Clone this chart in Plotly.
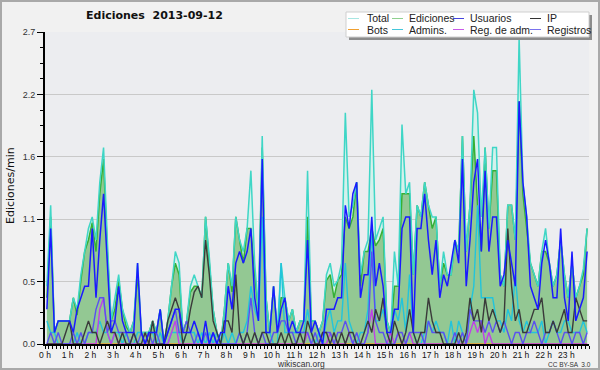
import plotly.graph_objects as go

# ---------------- data (edits per minute, 10-minute bins) ----------------
hours = [f"{h} h" for h in range(24)]

total = [0.5, 1.2, 0.1, 0.2, 0.2, 0.2,  0.2, 0.4, 0.3, 0.6, 0.8, 1.0,
         1.1, 0.9, 1.4, 1.7, 0.9, 0.2,  0.4, 0.6, 0.3, 0.2, 0.1, 0.2,
         0.7, 0.1, 0.1, 0.1, 0.2, 0.1,  0.3, 0.0, 0.2, 0.5, 0.8, 0.7,
         0.1, 0.2, 0.5, 0.6, 0.5, 0.4,  1.1, 0.75, 0.3, 0.1, 0.0, 0.3,
         0.7, 0.5, 1.1, 0.9, 0.8, 1.0,  1.5, 0.7, 0.3, 1.8, 0.4, 0.1,
         0.5, 0.1, 0.7, 0.4, 0.2, 0.3,  0.1, 0.2, 0.2, 1.5, 0.2, 0.2,
         0.1, 0.2, 0.6, 0.7, 0.5, 0.55, 0.7, 2.0, 1.1, 1.2, 1.4, 0.6,
         0.8, 0.9, 2.2, 0.9, 1.0, 1.1,  0.2, 0.1, 0.8, 0.5, 1.9, 1.3,
         1.4, 0.6, 1.2, 1.1, 1.4, 1.2,  1.1, 1.1, 0.5, 0.8, 0.6, 0.6,
         0.9, 0.8, 1.8, 0.8, 1.2, 2.2,  2.0, 1.1, 1.7, 1.0, 1.7, 1.7,
         0.6, 0.5, 1.2, 1.2, 0.9, 2.65, 1.4, 1.1, 0.7, 0.6, 0.5, 0.8,
         1.0, 0.7, 0.5, 0.6, 0.9, 0.6,  0.4, 0.7, 0.4, 0.5, 0.65, 1.0]

ediciones = [0.4, 1.1, 0.1, 0.2, 0.2, 0.2,  0.2, 0.4, 0.25, 0.55, 0.8, 0.9,
             1.05, 0.8, 1.3, 1.6, 0.8, 0.2, 0.3, 0.55, 0.3, 0.15, 0.1, 0.2,
             0.6, 0.1, 0.1, 0.1, 0.2, 0.1,  0.3, 0.0, 0.2, 0.5, 0.7, 0.6,
             0.1, 0.2, 0.45, 0.5, 0.5, 0.4, 1.1, 0.7, 0.3, 0.1, 0.0, 0.3,
             0.7, 0.45, 1.1, 0.9, 0.7, 1.0, 1.0, 0.6, 0.3, 1.7, 0.4, 0.1,
             0.5, 0.1, 0.4, 0.4, 0.2, 0.3,  0.1, 0.2, 0.2, 1.1, 0.2, 0.2,
             0.1, 0.2, 0.55, 0.6, 0.4, 0.55, 0.6, 1.1, 1.0, 1.1, 1.4, 0.5,
             0.8, 0.8, 1.0, 0.85, 0.9, 1.0, 0.2, 0.1, 0.5, 0.5, 1.3, 1.3,
             1.3, 0.6, 1.2, 1.1, 1.4, 1.2,  1.0, 1.1, 0.5, 0.7, 0.6, 0.6,
             0.9, 0.8, 1.8, 0.8, 1.2, 1.8,  1.2, 0.8, 1.7, 1.0, 1.5, 1.5,
             0.6, 0.5, 1.2, 1.2, 0.9, 2.1,  1.3, 1.0, 0.7, 0.6, 0.5, 0.8,
             0.8, 0.7, 0.5, 0.6, 0.9, 0.6,  0.4, 0.7, 0.4, 0.5, 0.6, 1.0]

usuarios = [0.3, 1.0, 0.1, 0.2, 0.2, 0.2,  0.2, 0.1, 0.3, 0.4, 0.5, 0.5,
            1.0, 0.4, 0.9, 1.3, 0.7, 0.1,  0.2, 0.5, 0.2, 0.1, 0.1, 0.1,
            0.7, 0.1, 0.0, 0.1, 0.1, 0.1,  0.3, 0.0, 0.1, 0.2, 0.3, 0.3,
            0.1, 0.1, 0.1, 0.2, 0.1, 0.0,  0.2, 0.0, 0.1, 0.0, 0.1, 0.1,
            0.5, 0.3, 0.7, 0.8, 0.7, 0.8,  1.0, 0.4, 0.2, 1.6, 0.1, 0.1,
            0.5, 0.1, 0.3, 0.4, 0.1, 0.2,  0.1, 0.1, 0.2, 0.9, 0.1, 0.2,
            0.1, 0.0, 0.3, 0.3, 0.3, 0.4,  0.4, 1.2, 1.0, 1.3, 1.4, 0.4,
            0.6, 0.6, 1.1, 0.5, 0.7, 0.5,  0.1, 0.1, 0.3, 0.3, 1.0, 1.1,
            1.1, 0.1, 1.0, 1.0, 1.3, 0.9,  0.6, 0.9, 0.4, 0.6, 0.5, 0.7,
            0.9, 0.7, 1.6, 0.5, 0.9, 1.4,  1.6, 0.8, 1.5, 0.8, 1.1, 1.1,
            0.5, 0.6, 0.9, 0.7, 0.5, 2.1,  1.4, 1.1, 0.5, 0.4, 0.3, 0.7,
            0.9, 0.7, 0.4, 0.4, 1.0, 0.4,  0.2, 0.8, 0.2, 0.3, 0.4, 0.8]

ip = [0.0, 0.0, 0.0, 0.0, 0.0, 0.1,  0.2, 0.0, 0.0, 0.0, 0.1, 0.2,
      0.1, 0.1, 0.0, 0.1, 0.2, 0.1,  0.1, 0.0, 0.1, 0.0, 0.0, 0.1,
      0.0, 0.0, 0.1, 0.0, 0.2, 0.0,  0.0, 0.0, 0.2, 0.3, 0.4, 0.3,
      0.0, 0.1, 0.3, 0.45, 0.5, 0.4, 0.9, 0.6, 0.2, 0.1, 0.0, 0.2,
      0.2, 0.1, 0.6, 0.1, 0.0, 0.1,  0.0, 0.1, 0.0, 0.1, 0.1, 0.0,
      0.0, 0.0, 0.1, 0.0, 0.1, 0.0,  0.0, 0.1, 0.0, 0.2, 0.1, 0.0,
      0.0, 0.1, 0.1, 0.0, 0.1, 0.0,  0.1, 0.0, 0.1, 0.1, 0.0, 0.0,
      0.1, 0.2, 0.1, 0.3, 0.2, 0.4,  0.1, 0.0, 0.2, 0.1, 0.0, 0.1,
      0.3, 0.1, 0.0, 0.1, 0.1, 0.4,  0.2, 0.1, 0.1, 0.0, 0.0, 0.0,
      0.0, 0.1, 0.0, 0.1, 0.4, 0.2,  0.3, 0.1, 0.4, 0.2, 0.3, 0.2,
      0.1, 0.2, 1.0, 0.5, 0.2, 0.3,  0.1, 0.1, 0.2, 0.3, 0.3, 0.4,
      0.1, 0.1, 0.2, 0.1, 0.2, 0.3,  0.1, 0.1, 0.4, 0.3, 0.2, 0.2]

bots = [0.0] * 144

admins = [0.2, 0.1, 0.1, 0.0, 0.0, 0.0,  0.0, 0.0, 0.1, 0.0, 0.0, 0.1,
          0.1, 0.1, 0.2, 0.1, 0.1, 0.0,  0.1, 0.1, 0.0, 0.1, 0.0, 0.0,
          0.1, 0.1, 0.0, 0.1, 0.1, 0.0,  0.1, 0.0, 0.0, 0.1, 0.1, 0.1,
          0.0, 0.1, 0.1, 0.1, 0.0, 0.1,  0.0, 0.1, 0.0, 0.1, 0.0, 0.1,
          0.0, 0.1, 0.0, 0.1, 0.1, 0.2,  0.5, 0.3, 0.2, 1.1, 0.1, 0.1,
          0.0, 0.0, 0.7, 0.1, 0.1, 0.1,  0.1, 0.1, 0.1, 0.3, 0.1, 0.0,
          0.1, 0.0, 0.2, 0.3, 0.1, 0.2,  0.2, 0.7, 0.2, 0.1, 0.0, 0.1,
          0.1, 0.3, 1.0, 0.2, 0.2, 0.3,  0.1, 0.0, 0.3, 0.2, 0.4, 0.1,
          0.6, 0.1, 0.0, 0.0, 0.1, 0.2,  0.1, 0.2, 0.1, 0.1, 0.0, 0.2,
          0.0, 0.2, 0.1, 0.0, 0.3, 0.5,  1.2, 0.4, 0.4, 0.4, 0.4, 0.2,
          0.2, 0.1, 0.3, 0.2, 0.6, 0.2,  0.1, 0.2, 0.1, 0.1, 0.1, 0.2,
          0.0, 0.1, 0.2, 0.1, 0.1, 0.2,  0.2, 0.1, 0.1, 0.1, 0.2, 0.1]

reg_adm = [0.0, 0.0, 0.0, 0.0, 0.0, 0.0,  0.0, 0.0, 0.0, 0.0, 0.0, 0.0,
           0.0, 0.0, 0.3, 0.4, 0.1, 0.0,  0.1, 0.0, 0.0, 0.0, 0.0, 0.0,
           0.0, 0.0, 0.0, 0.0, 0.0, 0.0,  0.0, 0.0, 0.0, 0.1, 0.2, 0.0,
           0.0, 0.0, 0.0, 0.0, 0.0, 0.0,  0.0, 0.0, 0.0, 0.0, 0.0, 0.0,
           0.0, 0.0, 0.0, 0.0, 0.0, 0.0,  0.0, 0.0, 0.0, 0.0, 0.0, 0.0,
           0.0, 0.0, 0.0, 0.0, 0.0, 0.0,  0.0, 0.0, 0.0, 0.1, 0.0, 0.0,
           0.0, 0.0, 0.0, 0.1, 0.0, 0.0,  0.0, 0.0, 0.1, 0.0, 0.0, 0.0,
           0.0, 0.1, 0.3, 0.0, 0.0, 0.0,  0.0, 0.1, 0.0, 0.1, 0.0, 0.0,
           0.1, 0.0, 0.0, 0.0, 0.0, 0.0,  0.0, 0.0, 0.0, 0.0, 0.0, 0.0,
           0.0, 0.0, 0.0, 0.0, 0.1, 0.2,  0.1, 0.2, 0.0, 0.1, 0.0, 0.0,
           0.0, 0.0, 0.0, 0.0, 0.0, 0.0,  0.0, 0.0, 0.0, 0.0, 0.0, 0.0,
           0.0, 0.0, 0.0, 0.0, 0.0, 0.0,  0.0, 0.0, 0.0, 0.0, 0.0, 0.0]

registros = [0.0, 0.1, 0.0, 0.1, 0.0, 0.0,  0.0, 0.1, 0.0, 0.1, 0.0, 0.1,
             0.1, 0.3, 0.4, 0.4, 0.1, 0.2,  0.2, 0.1, 0.1, 0.1, 0.0, 0.1,
             0.0, 0.1, 0.0, 0.1, 0.0, 0.1,  0.0, 0.0, 0.1, 0.2, 0.3, 0.1,
             0.1, 0.2, 0.1, 0.0, 0.1, 0.0,  0.1, 0.0, 0.1, 0.0, 0.0, 0.0,
             0.0, 0.0, 0.0, 0.1, 0.0, 0.1,  0.4, 0.1, 0.0, 0.1, 0.0, 0.0,
             0.1, 0.1, 0.2, 0.2, 0.1, 0.1,  0.0, 0.1, 0.1, 0.1, 0.0, 0.1,
             0.0, 0.1, 0.1, 0.1, 0.0, 0.1,  0.1, 0.2, 0.1, 0.0, 0.1, 0.0,
             0.0, 0.1, 0.8, 0.2, 0.1, 0.1,  0.0, 0.0, 0.0, 0.1, 0.1, 0.0,
             0.1, 0.1, 0.1, 0.1, 0.0, 0.2,  0.1, 0.1, 0.1, 0.1, 0.0, 0.0,
             0.1, 0.0, 0.1, 0.0, 0.3, 0.2,  0.2, 0.2, 0.1, 0.2, 0.1, 0.2,
             0.1, 0.2, 0.1, 0.0, 0.1, 0.1,  0.0, 0.1, 0.1, 0.2, 0.1, 0.0,
             0.1, 0.1, 0.2, 0.1, 0.0, 0.1,  0.1, 0.0, 0.1, 0.1, 0.0, 0.1]

y_tick_values = [0, 0.54, 1.08, 1.62, 2.16, 2.7]
y_tick_labels = ["0.0", "0.5", "1.1", "1.6", "2.2", "2.7"]

# bin centres in minutes
x = [i * 10 + 5 for i in range(len(total))]

# ---------------- figure ----------------
W, H = 600, 370
L, R, T, B = 45, 11, 32, 26
PW, PH = W - L - R, H - T - B
FONT = "DejaVu Sans"
FONT2 = "Liberation Sans"


def px(xp):
    return (xp - L) / PW


def py(yp):
    return (H - B - yp) / PH


C_TOTAL = "#3fd6c6"
C_TOTAL_FILL = "#d4f1ec"
C_ED = "#35b035"
C_ED_FILL = "#93c893"
C_USU = "#1a1aff"
C_IP = "#3a3a3a"
C_BOTS = "#f0a030"
C_ADM = "#22c4dc"
C_REGADM = "#c040e8"
C_REG = "#5a50f0"

fig = go.Figure()
fig.add_trace(go.Scatter(x=x, y=total, mode="lines", fill="tozeroy",
                         fillcolor=C_TOTAL_FILL, line=dict(width=0, color=C_TOTAL),
                         hoverinfo="skip", showlegend=False))
fig.add_trace(go.Scatter(x=x, y=ediciones, mode="lines", fill="tozeroy",
                         fillcolor=C_ED_FILL, line=dict(width=1.5, color=C_ED),
                         name="Ediciones", showlegend=False))
fig.add_trace(go.Scatter(x=x, y=total, mode="lines",
                         line=dict(width=1.5, color=C_TOTAL), name="Total", showlegend=False))
fig.add_trace(go.Scatter(x=x, y=bots, mode="lines",
                         line=dict(width=1.3, color=C_BOTS), name="Bots", showlegend=False))
fig.add_trace(go.Scatter(x=x, y=admins, mode="lines",
                         line=dict(width=1.4, color=C_ADM), name="Admins.", showlegend=False))
fig.add_trace(go.Scatter(x=x, y=reg_adm, mode="lines",
                         line=dict(width=1.4, color=C_REGADM), name="Reg. de adm.", showlegend=False))
fig.add_trace(go.Scatter(x=x, y=registros, mode="lines",
                         line=dict(width=1.4, color=C_REG), name="Registros", showlegend=False))
fig.add_trace(go.Scatter(x=x, y=ip, mode="lines",
                         line=dict(width=1.4, color=C_IP), name="IP", showlegend=False))
fig.add_trace(go.Scatter(x=x, y=usuarios, mode="lines",
                         line=dict(width=1.5, color=C_USU), name="Usuarios", showlegend=False))

shapes = []
annotations = []

# outer border
shapes.append(dict(type="rect", xref="paper", yref="paper",
                   x0=px(1), x1=px(W - 1), y0=py(H - 1), y1=py(1),
                   line=dict(color="#a9a9a9", width=2), layer="below"))

# legend box (shadow + white box)
lx0, lx1, ly0, ly1 = 346, 589, 12, 37
shapes.append(dict(type="rect", xref="paper", yref="paper",
                   x0=px(lx0 + 3), x1=px(lx1 + 3), y0=py(ly1 + 3), y1=py(ly0 + 3),
                   fillcolor="#8c8c8c", line=dict(width=0)))
shapes.append(dict(type="rect", xref="paper", yref="paper",
                   x0=px(lx0), x1=px(lx1), y0=py(ly1), y1=py(ly0),
                   fillcolor="white", line=dict(color="#cfcfcf", width=1)))

legend_items = [
    ("Total", "#a8e6e2", 348, 366, 18.5),
    ("Ediciones", "#8fd08f", 392, 408, 18.5),
    ("Usuarios", "#4444dd", 453, 469, 18.5),
    ("IP", "#333333", 530, 546, 18.5),
    ("Bots", C_BOTS, 348, 366, 29.5),
    ("Admins.", "#44c6da", 392, 408, 29.5),
    ("Reg. de adm.", "#c95ae8", 453, 469, 29.5),
    ("Registros", "#7a72ee", 530, 546, 29.5),
]
for name, col, lxs, tx, yy in legend_items:
    shapes.append(dict(type="line", xref="paper", yref="paper",
                       x0=px(lxs), x1=px(lxs + 11), y0=py(yy), y1=py(yy),
                       line=dict(color=col, width=1)))
    annotations.append(dict(text=name, xref="paper", yref="paper",
                            x=px(tx - 1), y=py(yy), xanchor="left", yanchor="middle",
                            showarrow=False, font=dict(family=FONT2, size=10.5, color="#222")))

# title
annotations.append(dict(text="<b>Ediciones\u00a0\u00a02013-09-12</b>", xref="paper", yref="paper",
                        x=px(154), y=py(16), xanchor="center", yanchor="middle",
                        showarrow=False, font=dict(family=FONT, size=11, color="#111")))
# y axis title
annotations.append(dict(text="Ediciones/min", xref="paper", yref="paper",
                        x=px(10), y=py(186), textangle=-90, xanchor="center", yanchor="middle",
                        showarrow=False, font=dict(family=FONT, size=11, color="#111")))
# footer
annotations.append(dict(text="wikiscan.org", xref="paper", yref="paper",
                        x=px(301), y=py(364), xanchor="center", yanchor="middle",
                        showarrow=False, font=dict(family=FONT2, size=8.5, color="#333")))
annotations.append(dict(text="CC BY-SA  3.0", xref="paper", yref="paper",
                        x=px(569), y=py(364), xanchor="center", yanchor="middle",
                        showarrow=False, font=dict(family=FONT2, size=6.5, color="#333")))

fig.update_layout(
    width=W, height=H, autosize=False,
    margin=dict(l=L, r=R, t=T, b=B, pad=0),
    paper_bgcolor="#f1f1f1", plot_bgcolor="#ecedf0",
    showlegend=False,
    shapes=shapes, annotations=annotations,
    font=dict(family=FONT2, size=9, color="#222"),
    xaxis=dict(range=[0, 1440], tickmode="array",
               tickvals=[h * 60 for h in range(24)], ticktext=hours, tickangle=0,
               ticks="outside", ticklen=2, tickwidth=1, tickcolor="black",
               minor=dict(dtick=10, tick0=0, ticks="outside", ticklen=3, tickcolor="black",
                          showgrid=False),
               showgrid=False, zeroline=False, showline=True, linecolor="black",
               linewidth=2, tickfont=dict(family=FONT2, size=8.5, color="#111"),
               fixedrange=True),
    yaxis=dict(range=[0, 2.7], tickmode="array",
               tickvals=y_tick_values, ticktext=y_tick_labels,
               ticks="outside", ticklen=6, tickwidth=1, tickcolor="black",
               minor=dict(dtick=0.135, tick0=0, ticks="outside", ticklen=3,
                          tickcolor="black", showgrid=False),
               showgrid=True, gridcolor="#c9c9c9", gridwidth=1,
               zeroline=False, showline=True, linecolor="black", linewidth=2,
               tickfont=dict(family=FONT2, size=9, color="#333"),
               fixedrange=True),
)

fig.write_html("out.html", config={"displayModeBar": False},
               post_script="document.body.style.margin='0';")
